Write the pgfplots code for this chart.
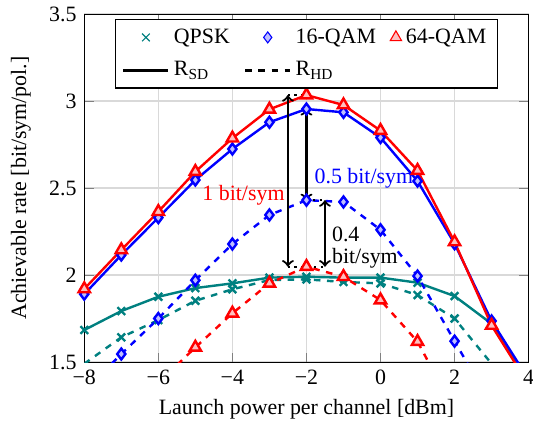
\documentclass[border=0pt]{standalone}
\usepackage{fontspec}
\setmainfont{Liberation Serif}
\usepackage{pgfplots}
\pgfplotsset{compat=1.18}
\begin{document}
\begin{tikzpicture}
\begin{axis}[
  width=203pt, height=159pt, scale only axis,
  xmin=-8, xmax=4, ymin=1.5, ymax=3.5,
  xtick={-8,-6,-4,-2,0,2,4}, xticklabels={−8,−6,−4,−2,0,2,4},
  ytick={1.5,2,2.5,3,3.5}, yticklabels={1.5,2,2.5,3,3.5},
  grid=major, grid style={gray!30, line width=0.6pt},
  xlabel={Launch power per channel [dBm]},
  ylabel={Achievable rate [bit/sym/pol.]},
  ylabel style={yshift=1.5pt},
  legend columns=3,
  legend style={at={(0.5,0.985)}, anchor=north, draw=black, line width=0.5pt, row sep=3pt,
    /tikz/every even column/.append style={column sep=4.5pt}},
  legend cell align=left,
  legend image code/.code={\draw[mark repeat=2,mark phase=2] plot coordinates {(0cm,0cm)(0.36cm,0cm)(0.72cm,0cm)};},
]
\addlegendimage{only marks, mark=x, teal, mark size=2.5pt}
\addlegendentry{QPSK}
\addlegendimage{only marks, mark=diamond*, blue, fill=blue!25, mark size=2.5pt}
\addlegendentry{16-QAM}
\addlegendimage{only marks, mark=triangle*, red, fill=red!25, mark size=3pt}
\addlegendentry{64-QAM}
\addlegendimage{black, line width=1.1pt}
\addlegendentry{R\textsubscript{SD}}
\addlegendimage{black, dashed, line width=1.1pt}
\addlegendentry{R\textsubscript{HD}}

% QPSK
\addplot[teal, line width=1.1pt, mark=x, mark size=2.5pt, mark options={solid}, forget plot] coordinates {
(-8,1.684)(-7,1.793)(-6,1.875)(-5,1.925)(-4,1.952)(-3,1.985)(-2,1.99)(-1,1.985)(0,1.985)(1,1.956)(2,1.879)(3,1.72)(4,1.38)};
\addplot[teal, dashed, line width=1.1pt, mark=x, mark size=2.5pt, mark options={solid}, forget plot] coordinates {
(-8,1.49)(-7,1.642)(-6,1.741)(-5,1.852)(-4,1.918)(-3,1.971)(-2,1.975)(-1,1.96)(0,1.952)(1,1.885)(2,1.75)(3,1.49)};
% 16-QAM
\addplot[blue, line width=1.1pt, mark=diamond*, mark size=2.5pt, mark options={solid, fill=blue!25}, forget plot] coordinates {
(-8,1.89)(-7,2.115)(-6,2.33)(-5,2.546)(-4,2.724)(-3,2.878)(-2,2.954)(-1,2.935)(0,2.79)(1,2.54)(2,2.18)(3,1.736)(4,1.40)};
\addplot[blue, dashed, line width=1.1pt, mark=diamond*, mark size=2.5pt, mark options={solid, fill=blue!25}, forget plot] coordinates {
(-8,1.33)(-7,1.546)(-6,1.75)(-5,1.97)(-4,2.178)(-3,2.345)(-2,2.43)(-1,2.42)(0,2.26)(1,1.994)(2,1.62)(3,1.25)};
% 64-QAM
\addplot[red, line width=1.1pt, mark=triangle*, mark size=3pt, mark options={solid, fill=red!25}, forget plot] coordinates {
(-8,1.92)(-7,2.144)(-6,2.364)(-5,2.594)(-4,2.786)(-3,2.952)(-2,3.034)(-1,2.977)(0,2.83)(1,2.60)(2,2.19)(3,1.71)(4,1.37)};
\addplot[red, dashed, line width=1.1pt, mark=triangle*, mark size=3pt, mark options={solid, fill=red!25}, forget plot] coordinates {
(-6,1.38)(-5,1.584)(-4,1.78)(-3,1.952)(-2,2.048)(-1,1.99)(0,1.856)(1,1.617)(2,1.22)};

% annotations
\draw[dotted, line width=1pt] (axis cs:-2.5,3.034) -- (axis cs:-2,3.034);
\draw[dotted, line width=1pt] (axis cs:-2.5,2.048) -- (axis cs:-1.5,2.048);
\draw[dotted, line width=1pt] (axis cs:-2,2.43) -- (axis cs:-1.5,2.43);
\draw[<->, line width=1pt] (axis cs:-2.5,3.034) -- (axis cs:-2.5,2.048);
\draw[<->, line width=1pt] (axis cs:-2,2.954) -- (axis cs:-2,2.43);
\draw[<->, line width=1pt] (axis cs:-1.5,2.43) -- (axis cs:-1.5,2.048);
\node[red] at (axis cs:-3.7,2.46) {1 bit/sym};
\node[blue, anchor=west, inner sep=1pt] at (axis cs:-1.85,2.557) {0.5 bit/sym};
\node[anchor=west, align=left, inner sep=0pt] at (axis cs:-1.32,2.16) {0.4\\[-2pt]bit/sym};
\end{axis}
\pgfresetboundingbox
\path[use as bounding box] ([xshift=-38.5pt,yshift=-29.2pt]current axis.south west) rectangle ([xshift=2pt,yshift=6.4pt]current axis.north east);
\end{tikzpicture}
\end{document}
